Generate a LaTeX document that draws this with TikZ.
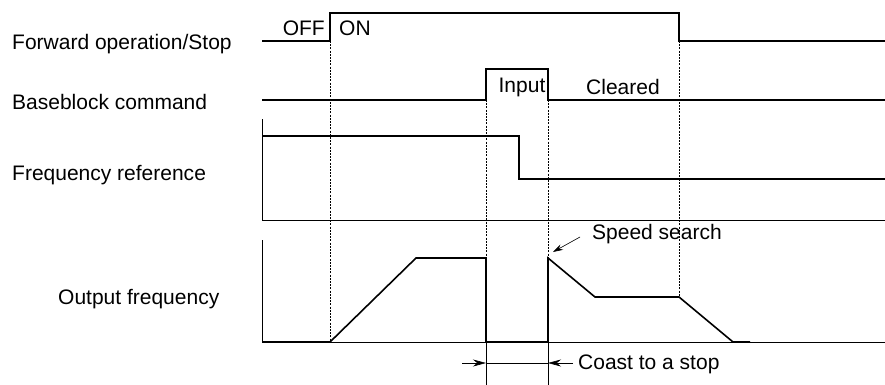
\documentclass[tikz,border=0pt]{standalone}
\usepackage{fontspec}
\setmainfont{Liberation Sans}
\usetikzlibrary{arrows.meta}
\begin{document}
\begin{tikzpicture}[x=1pt,y=-1pt,
  sig/.style={line width=1.6pt},
  axis/.style={line width=0.8pt},
  guide/.style={line width=0.5pt,dash pattern=on 2pt off 1.2pt},
  lbl/.style={font=\fontsize{21}{23}\selectfont,inner sep=0pt},
  arr/.style={line width=0.6pt,-{Stealth[length=10pt,width=6pt]}},
  carr/.style={line width=0.6pt,-{Stealth[length=13pt,width=7pt]}}]
\useasboundingbox (0,0) rectangle (885,385);
% labels
\node[lbl,anchor=west] (lfwd) at (12,44) {Forward operation/Stop};
\node[lbl,anchor=west] (lbb) at (12,102) {Baseblock command};
\node[lbl,anchor=west] (lfr) at (12,175) {Frequency reference};
\node[lbl,anchor=west] (lout) at (58,299) {Output frequency};
% guides
\draw[guide] (330,41) -- (330,342);
\draw[guide] (486,100) -- (486,258);
\draw[guide] (548,100) -- (548,258);
\draw[guide] (679,41) -- (679,297);
% forward
\draw[sig] (262,41) -- (330,41) -- (330,13) -- (679,13) -- (679,41) -- (885,41);
\node[lbl,anchor=east] (off) at (325,28) {OFF};
\node[lbl,anchor=west] (on) at (339,28) {ON};
% baseblock
\draw[sig] (262,100) -- (486,100) -- (486,69) -- (548,69) -- (548,100) -- (885,100);
\node[lbl] (inp) at (522,87) {Input};
\node[lbl] (clr) at (623,87) {Cleared};
% frequency reference axes
\draw[axis] (262,119) -- (262,220) -- (885,220);
\draw[sig] (262,136) -- (519,136) -- (519,179) -- (885,179);
% output axes
\draw[axis] (262,240) -- (262,342) -- (885,342);
\draw[sig] (262,342) -- (330,342) -- (416,258) -- (486,258) -- (486,342) -- (548,342) -- (548,258) -- (595,297) -- (679,297) -- (733,342) -- (750,342);
% speed search
\node[lbl,anchor=west] (ss) at (592,234) {Speed search};
\coordinate (ssa) at (580,237);
\coordinate (ssb) at (553,252);
\draw[arr] (ssa) -- (ssb);
% coast
\draw[line width=0.6pt] (486,342) -- (486,385);
\draw[line width=0.6pt] (548,342) -- (548,385);
\draw[line width=0.6pt] (486,363) -- (548,363);
\coordinate (ca) at (462,363);
\coordinate (cb) at (486,363);
\coordinate (cc) at (573,363);
\coordinate (cd) at (548,363);
\draw[carr] (ca) -- (cb);
\draw[carr] (cc) -- (cd);
\node[lbl,anchor=west] (coast) at (578,364) {Coast to a stop};
\end{tikzpicture}
\end{document}
